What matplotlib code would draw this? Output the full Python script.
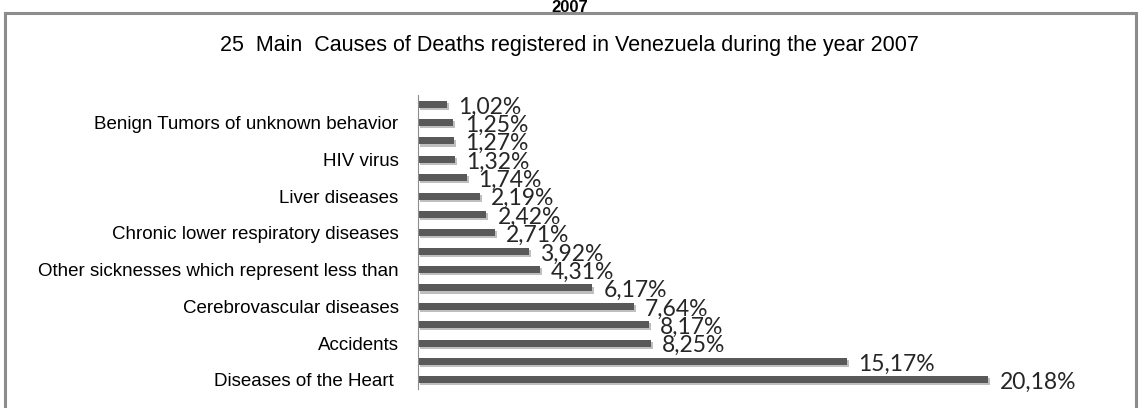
import matplotlib.pyplot as plt
import matplotlib.patheffects as pe
from matplotlib.patches import Rectangle

# bottom to top
categories = ["Diseases of the Heart ", "", "Accidents", "", "Cerebrovascular diseases", "",
              "Other sicknesses which represent less than", "", "Chronic lower respiratory diseases", "",
              "Liver diseases", "", "HIV virus", "", "Benign Tumors of unknown behavior", ""]
values = [20.18, 15.17, 8.25, 8.17, 7.64, 6.17, 4.31, 3.92, 2.71, 2.42, 2.19, 1.74, 1.32, 1.27, 1.25, 1.02]
labels = ["%.2f%%" % v for v in values]
labels = [s.replace(".", ",") for s in labels]

W, H = 1139, 408
fig = plt.figure(figsize=(W / 100, H / 100), dpi=100)

# outer frame
fig.patches.append(Rectangle((5 / W, -0.01), (1136 - 5) / W, (408 - 13) / H + 0.01,
                             transform=fig.transFigure, fill=False, edgecolor="#8c8c8c", lw=2.2))
fig.text(0.5, 1.0, "2007", ha="center", va="top", fontsize=12, fontweight="bold",
         family="Liberation Sans")
fig.text(0.5, (408 - 45) / H, "25  Main  Causes of Deaths registered in Venezuela during the year 2007",
         ha="center", va="center", fontsize=15.5, family="Liberation Sans")

ax = fig.add_axes([418 / W, (408 - 389) / H, (1100 - 418) / W, (389 - 95) / H])
y = range(len(values))
bars = ax.barh(y, values, height=0.38, color="#595959")
for b in bars:
    b.set_path_effects([pe.SimplePatchShadow(offset=(1.5, -1.5), shadow_rgbFace="#b0b0b0", alpha=0.8),
                        pe.Normal()])
for i, (v, s) in enumerate(zip(values, labels)):
    ax.text(v + 0.4, i - 0.15, s, va="center", ha="left", fontsize=16.5, family="Lato", color="#262626")

ax.set_xlim(0, (1100 - 418) / 28.25)
ax.set_ylim(-0.5, len(values) - 0.5)
ax.set_yticks(list(y))
ax.set_yticklabels(categories, fontsize=13.5, family="Liberation Sans")
ax.tick_params(axis="y", length=0, pad=14)
ax.set_xticks([])
for side in ["top", "right", "bottom"]:
    ax.spines[side].set_visible(False)
ax.spines["left"].set_color("#8c8c8c")
ax.patch.set_alpha(0)

fig.savefig("out.png", dpi=100)
